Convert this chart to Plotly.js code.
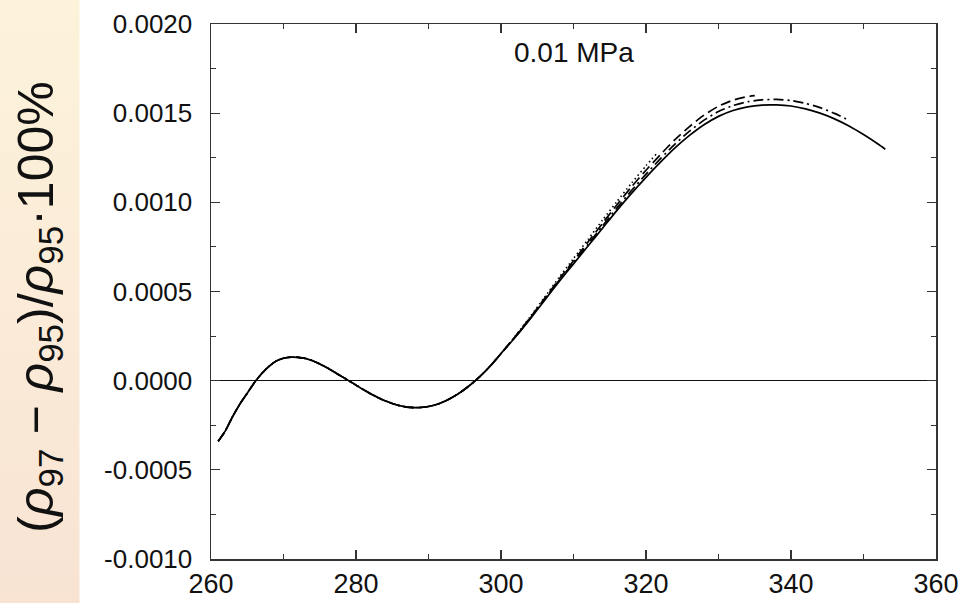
<!DOCTYPE html>
<html>
<head>
<meta charset="utf-8">
<script src="https://cdn.plot.ly/plotly-3.0.1.min.js"></script>
<style>
  html, body { margin: 0; padding: 0; width: 963px; height: 603px; overflow: hidden; }
  body {
    background:
      linear-gradient(to right, rgba(255,255,255,0) 0px, rgba(255,255,255,0) 79px, #ffffff 80px, #ffffff 100%),
      linear-gradient(to bottom, #fcf3da 0%, #fbebd8 50%, #f8e3d3 100%);
  }
  #chart { width: 963px; height: 603px; }
</style>
</head>
<body>
<div id="chart"></div>
<script>
// Shared part of all curves (T in K)
const baseT = [261,262,263,264,265,266,267,268,269,270,271,272,273,274,275,276,277,278,279,280,
               281,282,283,284,285,286,287,288,289,290,291,292,293,294,295,296,297,298,299,300];
const baseY = [-0.00034,-0.00028,-0.00020,-0.00013,-0.00007,-0.00001,0.00004,0.00008,0.000110,0.000126,
               0.000132,0.000131,0.000125,0.000112,0.000094,0.000073,0.000049,0.000024,0.000000,-0.000025,
               -0.000050,-0.000073,-0.000094,-0.000113,-0.000128,-0.000140,-0.000148,-0.000151,-0.000150,-0.000145,
               -0.000135,-0.000120,-0.000100,-0.000076,-0.000048,-0.000016,0.000020,0.000060,0.000104,0.000152];

// Solid curve tail
const solidT = [302,304,306,308,310,312,314,316,318,320,322,324,326,328,330,332,334,336,338,340,342,344,346,348,350,352,353];
const solidY = [0.000245,0.000345,0.000450,0.000555,0.000655,0.000755,0.000855,0.000955,0.001050,0.001140,
                0.001225,0.001305,0.001375,0.001435,0.001482,0.001515,0.001535,0.001545,0.001546,0.001540,
                0.001524,0.001500,0.001468,0.001428,0.001380,0.001327,0.001298];

// Dash-dot curve tail
const dashdotT = [302,304,306,308,310,312,314,316,318,320,322,324,326,328,330,332,334,336,338,340,342,344,346,348];
const dashdotY = [0.000247,0.000348,0.000455,0.000561,0.000663,0.000765,0.000867,0.000969,0.001066,0.001158,
                  0.001245,0.001327,0.001399,0.001461,0.001509,0.001543,0.001564,0.001575,0.001577,0.001571,
                  0.001555,0.001531,0.001499,0.001459];

// Dashed curve tail
const dashT = [302,304,306,308,310,312,314,316,318,320,322,324,326,328,330,332,334,335];
const dashY = [0.000250,0.000352,0.000460,0.000568,0.000672,0.000777,0.000882,0.000987,0.001087,0.001180,
               0.001268,0.001352,0.001425,0.001489,0.001539,0.001573,0.001593,0.001598];

// Dotted curve tail
const dotT = [302,304,306,308,310,312,314,316,318,320,321.5];
const dotY = [0.000252,0.000357,0.000467,0.000578,0.000685,0.000792,0.000900,0.001005,0.001107,0.001205,0.001275];

const xTicks = [260,280,300,320,340,360];
const yTickVals = [-0.0010,-0.0005,0,0.0005,0.0010,0.0015,0.0020];
const yTickText = ['-0.0010','-0.0005','0.0000','0.0005','0.0010','0.0015','0.0020'];

const pressureLabel = '0.01 MPa';
const yTitle = '(<i>ρ</i><sub>97</sub> − <i>ρ</i><sub>95</sub>)/<i>ρ</i><sub>95</sub>·100%';

function mk(t, y, dash, w) {
  return {
    x: baseT.concat(t), y: baseY.concat(y),
    type: 'scatter', mode: 'lines',
    line: { color: '#000', width: w, dash: dash, shape: 'spline', smoothing: 0.6 },
    hoverinfo: 'skip', showlegend: false
  };
}

const data = [
  mk(dotT, dotY, '1.5px,3px', 1.6),
  mk(dashT, dashY, '10px,5px', 1.7),
  mk(dashdotT, dashdotY, '10px,4px,2px,4px', 1.7),
  mk(solidT, solidY, 'solid', 1.7)
];

const font = { family: '"Liberation Sans", Arial, sans-serif', color: '#111' };

const layout = {
  width: 963, height: 603,
  margin: { l: 211, r: 27, t: 24, b: 44, pad: 0 },
  paper_bgcolor: 'rgba(0,0,0,0)',
  plot_bgcolor: '#ffffff',
  showlegend: false,
  xaxis: {
    range: [260, 360], tickvals: xTicks, ticktext: xTicks.map(String),
    ticks: 'inside', ticklen: 9, tickwidth: 1.2, tickcolor: '#333',
    showline: true, linecolor: '#333', linewidth: 1.5, mirror: 'ticks',
    showgrid: false, zeroline: false,
    tickfont: Object.assign({ size: 27 }, font),
    minor: { dtick: 10, tick0: 260, ticks: 'inside', ticklen: 5, tickwidth: 1, tickcolor: '#333', showgrid: false },
    fixedrange: true
  },
  yaxis: {
    range: [-0.0010, 0.0020], tickvals: yTickVals, ticktext: yTickText,
    ticks: 'inside', ticklen: 9, tickwidth: 1.2, tickcolor: '#333',
    showline: true, linecolor: '#333', linewidth: 1.5, mirror: 'ticks',
    showgrid: false, zeroline: true, zerolinecolor: '#111', zerolinewidth: 1.3,
    tickfont: Object.assign({ size: 26 }, font),
    minor: { dtick: 0.00025, tick0: 0, ticks: 'inside', ticklen: 5, tickwidth: 1, tickcolor: '#333', showgrid: false },
    ticklabelstandoff: 12,
    fixedrange: true
  },
  annotations: [
    { text: pressureLabel, x: 310, y: 0.00184, xref: 'x', yref: 'y', showarrow: false,
      font: Object.assign({ size: 28 }, font), xanchor: 'center', yanchor: 'middle' },
    { text: yTitle, x: -0.237, y: 0.47, xref: 'paper', yref: 'paper', showarrow: false, textangle: -90,
      font: Object.assign({ size: 50 }, font), xanchor: 'center', yanchor: 'middle' }
  ]
};

Plotly.newPlot('chart', data, layout, { displayModeBar: false, staticPlot: true });
</script>
</body>
</html>
